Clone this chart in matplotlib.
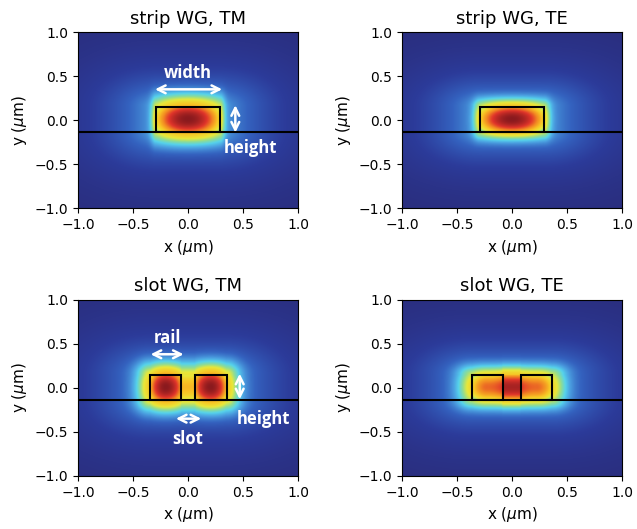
import numpy as np
import matplotlib.pyplot as plt
from matplotlib.colors import LinearSegmentedColormap
from matplotlib.patches import Rectangle

# waveguide geometry (um)
core_y = [-0.135, 0.145]
substrate_y = -0.135
strip_rails = [(-0.29, 0.29)]
slot_rails_tm = [(-0.345, -0.06), (0.065, 0.35)]
slot_rails_te = [(-0.365, -0.085), (0.08, 0.365)]

titles = ["strip WG, TM", "strip WG, TE", "slot WG, TM", "slot WG, TE"]
rails_list = [strip_rails, strip_rails, slot_rails_tm, slot_rails_te]

# mode shape: rail peak, outer edge, inner edge, slot level, top/bottom edge
peaks = [1.0, 1.0, 1.0, 0.80]
edge_out = [0.60, 0.62, 0.68, 0.60]
edge_in = [0.60, 0.62, 0.72, 0.86]
slot_level = [0.0, 0.0, 0.68, 0.95]
edge_y = [0.78, 0.70, 0.80, 0.72]
# decay lengths outside the core (x, y): near field and far tail
near_len = [(0.05, 0.17), (0.065, 0.11), (0.13, 0.17), (0.14, 0.12)]
far_len = [(0.58, 0.44), (0.58, 0.40), (0.58, 0.44), (0.58, 0.40)]
near_mix = 0.45
tail_amp = 0.62

cmap = LinearSegmentedColormap.from_list("mode", [
    (0.00, "#2a2b78"), (0.12, "#2c3b9a"), (0.22, "#3462bf"),
    (0.32, "#4b9fe0"), (0.40, "#56d3ec"), (0.48, "#8edc95"),
    (0.56, "#e8e83a"), (0.66, "#f8c424"), (0.76, "#f28a22"),
    (0.86, "#e0342a"), (1.00, "#8a1a1e")])


def mode_field(rails, peak, e_out, e_in, s_level, e_y, near, far):
    x = np.linspace(-1, 1, 401)
    X, Y = np.meshgrid(x, x)
    y0, y1 = core_y
    yc, hh = (y0 + y1) / 2, (y1 - y0) / 2
    xn = np.clip(X, rails[0][0], rails[-1][1])
    yn = np.clip(Y, y0, y1)
    px = np.full_like(X, s_level)
    for a, b in rails:
        c, w = (a + b) / 2, (b - a) / 2
        u = (xn - c) / w
        inner = u * np.sign(-c) > 0
        e = np.where(inner, e_in, e_out)
        px = np.where((xn >= a) & (xn <= b), peak - (peak - e) * u ** 2, px)
    py = 1 - (1 - e_y) * ((yn - yc) / hh) ** 2
    core = px * py
    dx, dy = np.abs(X - xn), np.abs(Y - yn)
    rn = np.hypot(dx / near[0], dy / near[1])
    rf = np.hypot(dx / far[0], dy / far[1])
    outside = (near_mix * core * np.exp(-rn ** 2)
               + (1 - near_mix) * tail_amp * np.exp(-rf))
    return np.where((dx > 0) | (dy > 0), outside, core)


fig, axes = plt.subplots(2, 2, figsize=(6.37, 5.29), dpi=100)
plt.subplots_adjust(left=0.1225, right=0.9765, top=0.9395, bottom=0.1002,
                    wspace=0.473, hspace=0.517)

for i, ax in enumerate(axes.flat):
    field = mode_field(rails_list[i], peaks[i], edge_out[i], edge_in[i],
                       slot_level[i], edge_y[i], near_len[i], far_len[i])
    ax.imshow(field, extent=[-1, 1, -1, 1], origin="lower", cmap=cmap,
              vmin=0, vmax=1, aspect="auto", interpolation="bilinear")
    for a, b in rails_list[i]:
        ax.add_patch(Rectangle((a, core_y[0]), b - a, core_y[1] - core_y[0],
                               fill=False, ec="black", lw=1.5))
    ax.axhline(substrate_y, color="black", lw=1.5)
    ax.set_xlim(-1, 1)
    ax.set_ylim(-1, 1)
    ax.set_xticks([-1, -0.5, 0, 0.5, 1])
    ax.set_yticks([-1, -0.5, 0, 0.5, 1])
    ax.set_xlabel(r"x ($\mu$m)", fontsize=11)
    ax.set_ylabel(r"y ($\mu$m)", fontsize=11)
    ax.set_title(titles[i], fontsize=13)

# dimension labels
lbl = dict(color="white", fontsize=12, fontweight="bold", family="Open Sans",
           ha="center", va="center")
arw = dict(arrowstyle="<->", color="white", lw=1.8, mutation_scale=14,
           shrinkA=0, shrinkB=0)

ax = axes[0, 0]
ax.annotate("", xy=(-0.30, 0.35), xytext=(0.31, 0.35), arrowprops=arw)
ax.text(0.0, 0.53, "width", **lbl)
ax.annotate("", xy=(0.43, 0.17), xytext=(0.43, -0.14), arrowprops=arw)
ax.text(0.57, -0.32, "height", **lbl)

ax = axes[1, 0]
ax.annotate("", xy=(-0.34, 0.38), xytext=(-0.04, 0.38), arrowprops=arw)
ax.text(-0.19, 0.57, "rail", **lbl)
ax.annotate("", xy=(-0.11, -0.35), xytext=(0.12, -0.35), arrowprops=arw)
ax.text(0.0, -0.58, "slot", **lbl)
ax.annotate("", xy=(0.47, 0.16), xytext=(0.47, -0.13), arrowprops=arw)
ax.text(0.69, -0.35, "height", **lbl)

fig.savefig("out.png", dpi=100)
